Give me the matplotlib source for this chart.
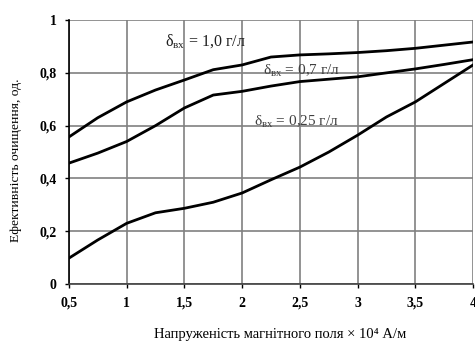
import matplotlib
matplotlib.use('Agg')
import matplotlib.pyplot as plt

H = [0.5, 0.75, 1, 1.25, 1.5, 1.75, 2, 2.25, 2.5, 2.75, 3, 3.25, 3.5, 3.75, 4]
eff_10 = [0.557, 0.63, 0.69, 0.735, 0.773, 0.812, 0.83, 0.86, 0.868, 0.872, 0.877, 0.884, 0.893, 0.905, 0.917]
eff_07 = [0.458, 0.496, 0.54, 0.60, 0.667, 0.716, 0.73, 0.75, 0.767, 0.776, 0.785, 0.80, 0.815, 0.832, 0.85]
eff_025 = [0.098, 0.167, 0.23, 0.27, 0.287, 0.31, 0.345, 0.395, 0.443, 0.50, 0.564, 0.633, 0.69, 0.76, 0.83]

xticks = [0.5, 1, 1.5, 2, 2.5, 3, 3.5, 4]
xlabels = ['0,5', '1', '1,5', '2', '2,5', '3', '3,5', '4']
yticks = [0, 0.2, 0.4, 0.6, 0.8, 1]
ylabels = ['0', '0,2', '0,4', '0,6', '0,8', '1']

plt.rcParams['font.family'] = ['Liberation Serif', 'DejaVu Serif']
plt.rcParams['mathtext.fontset'] = 'custom'
plt.rcParams['mathtext.rm'] = 'Liberation Serif'

fig = plt.figure(figsize=(4.75, 3.46), dpi=100)
ax = fig.add_axes([0.145, 0.179, 0.851, 0.763])

ax.plot(H, eff_10, color='black', lw=2)
ax.plot(H, eff_07, color='black', lw=2)
ax.plot(H, eff_025, color='black', lw=2)

ax.set_xlim(0.5, 4)
ax.set_ylim(0, 1)
ax.set_xticks(xticks)
ax.set_xticklabels(xlabels, fontweight='bold', fontsize=10)
ax.set_yticks(yticks)
ax.set_yticklabels(ylabels, fontweight='bold', fontsize=10)
ax.tick_params(direction='out', length=3, width=1, pad=6)
ax.grid(True, color='#808080', lw=1.2)
for s in ['top', 'right']:
    ax.spines[s].set_visible(False)
ax.spines['left'].set_linewidth(1.2)
ax.spines['bottom'].set_color('#404040')
ax.spines['bottom'].set_linewidth(1.2)

ax.text(1.33, 0.917, r'δ$_{\rm вх}$ = 1,0 г/л', fontsize=11.5, color='#202020', va='center')
ax.text(2.18, 0.81, r'δ$_{\rm вх}$ = 0,7 г/л', fontsize=11, color='#404040', va='center')
ax.text(2.10, 0.615, r'δ$_{\rm вх}$ = 0,25 г/л', fontsize=11, color='#404040', va='center')

ax.set_xlabel('Напруженість магнітного поля × 10⁴ А/м', fontsize=10.5)
ax.xaxis.set_label_coords(0.522, -0.165)
ax.set_ylabel('Ефективність очищення, од.', fontsize=9.7)
ax.yaxis.set_label_coords(-0.116, 0.47)

fig.savefig('out.png', dpi=100)
